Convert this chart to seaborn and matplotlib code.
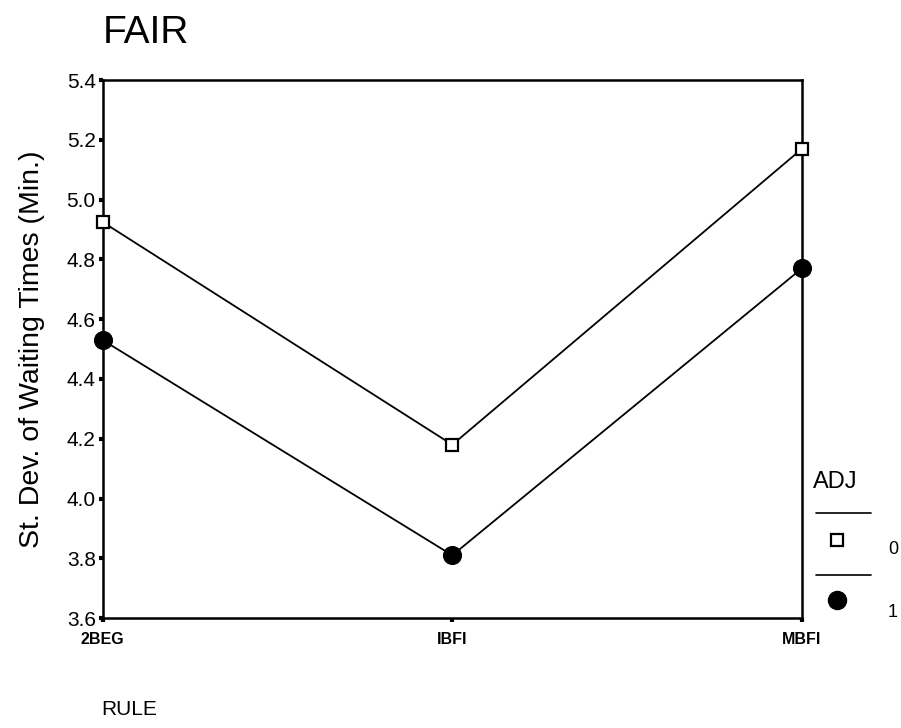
import matplotlib
matplotlib.use("Agg")
import matplotlib.pyplot as plt
import seaborn as sns
import pandas as pd
from matplotlib.lines import Line2D

rules = ["2BEG", "IBFI", "MBFI"]
adj0 = [4.925, 4.18, 5.17]
adj1 = [4.53, 3.81, 4.77]
yticks = [3.6, 3.8, 4.0, 4.2, 4.4, 4.6, 4.8, 5.0, 5.2, 5.4]

sns.set_theme(style="white")
plt.rcParams['font.family'] = ['Liberation Sans', 'DejaVu Sans']
plt.rcParams['text.color'] = 'black'
plt.rcParams['axes.labelcolor'] = 'black'
plt.rcParams['xtick.color'] = 'black'
plt.rcParams['ytick.color'] = 'black'

df0 = pd.DataFrame({"RULE": rules, "SD": adj0})
df1 = pd.DataFrame({"RULE": rules, "SD": adj1})

fig = plt.figure(figsize=(9.01, 7.28), dpi=100)
ax = fig.add_axes([0.114, 0.151, 0.776, 0.739])

sns.lineplot(data=df0, x="RULE", y="SD", ax=ax, color="black", lw=1.3,
             marker="s", markersize=9, markerfacecolor="white",
             markeredgecolor="black", markeredgewidth=1.6, clip_on=False, zorder=5)
sns.lineplot(data=df1, x="RULE", y="SD", ax=ax, color="black", lw=1.3,
             marker="o", markersize=13, markerfacecolor="black",
             markeredgecolor="black", clip_on=False, zorder=5)

ax.set_xlim(0, 2)
ax.set_ylim(3.6, 5.4)
ax.set_yticks(yticks)
ax.set_yticklabels([f"{v:.1f}" for v in yticks], fontsize=15)
ax.set_xticks(range(len(rules)))
ax.set_xticklabels(rules, fontsize=11.5, fontweight="bold")
ax.tick_params(axis="both", direction="out", length=3, width=3, color="black",
               left=True, bottom=True, labelcolor="black")
ax.tick_params(axis="y", pad=2)
ax.tick_params(axis="x", pad=7)
for s in ax.spines.values():
    s.set_color("black")
    s.set_linewidth(1.8)
ax.set_xlabel("")
ax.set_ylabel("St. Dev. of Waiting Times (Min.)", fontsize=20.5, color="black")
ax.yaxis.set_label_coords(-0.082, 0.5)

fig.text(0.114, 0.954, "FAIR", fontsize=28, ha="left", va="center", color="black")
fig.text(0.112, 0.025, "RULE", fontsize=15, ha="left", va="center", color="black")

# legend
fig.text(0.902, 0.338, "ADJ", fontsize=17, ha="left", va="center", color="black")
fig.add_artist(Line2D([0.906, 0.967], [0.296, 0.296], color="black", lw=1.2))
fig.add_artist(Line2D([0.929], [0.258], marker="s", markersize=9, markerfacecolor="white",
                      markeredgecolor="black", markeredgewidth=1.6, lw=0))
fig.text(0.991, 0.245, "0", fontsize=13, ha="center", va="center", color="black")
fig.add_artist(Line2D([0.906, 0.967], [0.210, 0.210], color="black", lw=1.2))
fig.add_artist(Line2D([0.929], [0.176], marker="o", markersize=13, markerfacecolor="black",
                      markeredgecolor="black", lw=0))
fig.text(0.991, 0.159, "1", fontsize=13, ha="center", va="center", color="black")

fig.savefig("out.png", dpi=100)
